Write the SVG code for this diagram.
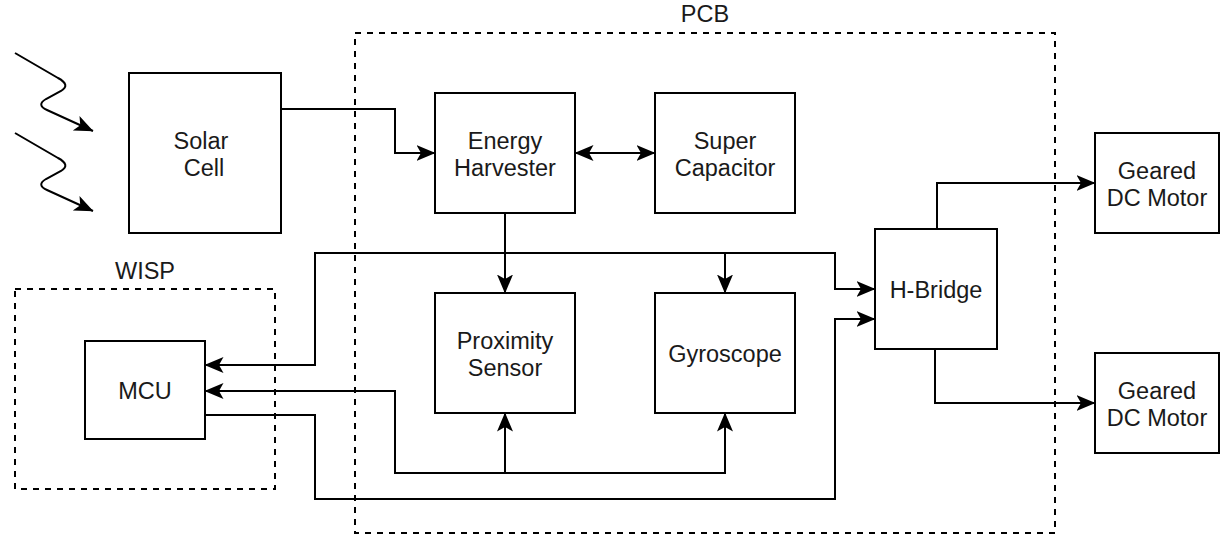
<svg xmlns="http://www.w3.org/2000/svg" width="1220" height="534" viewBox="0 0 1220 534">
<style>
.box{fill:#fff;stroke:#000;stroke-width:2}
.grp{fill:none;stroke:#000;stroke-width:2;stroke-dasharray:6 6}
.ln{fill:none;stroke:#000;stroke-width:2}
text{font-family:"Liberation Sans",Arial,Helvetica,sans-serif;font-size:23.5px;fill:#1a1a1a;text-anchor:middle}
</style>
<defs>
<marker id="arr" viewBox="0 0 19 18" refX="18.5" refY="9" markerWidth="19" markerHeight="18" orient="auto-start-reverse" markerUnits="userSpaceOnUse">
<path d="M0,1 L19,9 L0,17 L4.5,9 Z" fill="#000"/>
</marker>
</defs>
<rect width="1220" height="534" fill="#fff"/>
<g id="pcb">
<rect class="grp" x="355" y="33" width="700" height="500"/>
<text x="705" y="22">PCB</text>
</g>
<g id="wisp">
<rect class="grp" x="15" y="289" width="260" height="200"/>
<text x="145" y="279">WISP</text>
</g>
<g id="light">
<path class="ln" d="M15,53 L58,78 Q71,85 61,91 L46,99 Q36,105 47,110 L93,131" marker-end="url(#arr)"/>
<path class="ln" d="M15,133 L58,158 Q71,165 61,171 L46,179 Q36,185 47,190 L93,211" marker-end="url(#arr)"/>
</g>
<g id="connectors">
<path class="ln" d="M281,109 H395 V153 H435" marker-end="url(#arr)"/>
<path class="ln" d="M575,153 H655" marker-start="url(#arr)" marker-end="url(#arr)"/>
<path class="ln" d="M505,213 V293" marker-end="url(#arr)"/>
<path class="ln" d="M205,365 H315 V253 H835 V289 H875" marker-start="url(#arr)" marker-end="url(#arr)"/>
<path class="ln" d="M725,253 V293" marker-end="url(#arr)"/>
<path class="ln" d="M205,391 H395 V473 H725 V413" marker-start="url(#arr)" marker-end="url(#arr)"/>
<path class="ln" d="M505,473 V413" marker-end="url(#arr)"/>
<path class="ln" d="M205,415 H315 V499 H835 V319 H875" marker-end="url(#arr)"/>
<path class="ln" d="M937,229 V183 H1095" marker-end="url(#arr)"/>
<path class="ln" d="M935,349 V403 H1095" marker-end="url(#arr)"/>
</g>
<g id="solar">
<rect class="box" x="129" y="73" width="152" height="160"/>
<text x="201" y="148.5">Solar</text>
<text x="204" y="175.5">Cell</text>
</g>
<g id="harvester">
<rect class="box" x="435" y="93" width="140" height="120"/>
<text x="505" y="148.5">Energy</text>
<text x="505" y="175.5">Harvester</text>
</g>
<g id="supercap">
<rect class="box" x="655" y="93" width="140" height="120"/>
<text x="725" y="148.5">Super</text>
<text x="725" y="175.5">Capacitor</text>
</g>
<g id="proximity">
<rect class="box" x="435" y="293" width="140" height="120"/>
<text x="505" y="348.5">Proximity</text>
<text x="505" y="375.5">Sensor</text>
</g>
<g id="gyro">
<rect class="box" x="655" y="293" width="140" height="120"/>
<text x="725" y="361.5">Gyroscope</text>
</g>
<g id="mcu">
<rect class="box" x="85" y="341" width="120" height="98"/>
<text x="145" y="399">MCU</text>
</g>
<g id="hbridge">
<rect class="box" x="875" y="229" width="122" height="120"/>
<text x="936" y="297.5">H-Bridge</text>
</g>
<g id="motor1">
<rect class="box" x="1095" y="133" width="124" height="100"/>
<text x="1157" y="178.5">Geared</text>
<text x="1157" y="205.5">DC Motor</text>
</g>
<g id="motor2">
<rect class="box" x="1095" y="353" width="124" height="100"/>
<text x="1157" y="398.5">Geared</text>
<text x="1157" y="425.5">DC Motor</text>
</g>
</svg>
